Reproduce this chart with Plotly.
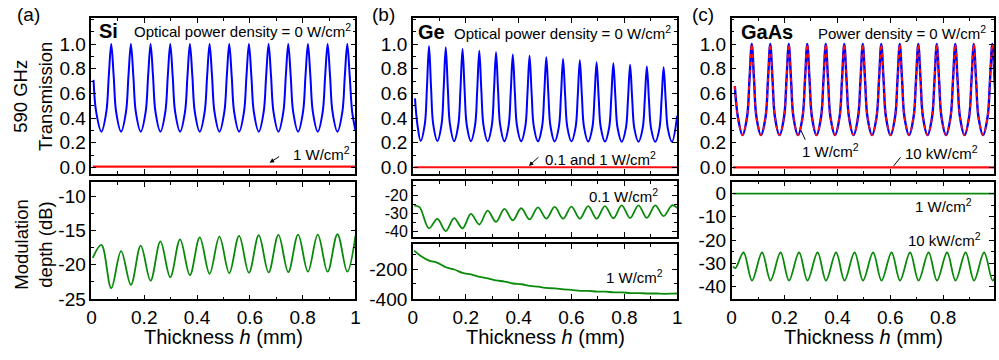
import plotly.graph_objects as go

# ---------------- thickness grids (mm) and curves ----------------
# (a) Si, 590 GHz transmission, dark
si_h = [0.008, 0.018, 0.0378,
        0.0564, 0.0657, 0.075, 0.0843, 0.0936, 0.1123,
        0.1309, 0.1402, 0.1495, 0.1588, 0.1681, 0.1868,
        0.2054, 0.2147, 0.224, 0.2333, 0.2426, 0.2613,
        0.2799, 0.2892, 0.2985, 0.3078, 0.3171, 0.3358,
        0.3544, 0.3637, 0.373, 0.3823, 0.3916, 0.4103,
        0.4289, 0.4382, 0.4475, 0.4568, 0.4661, 0.4848,
        0.5034, 0.5127, 0.522, 0.5313, 0.5406, 0.5593,
        0.5779, 0.5872, 0.5965, 0.6058, 0.6151, 0.6338,
        0.6524, 0.6617, 0.671, 0.6803, 0.6896, 0.7083,
        0.7269, 0.7362, 0.7455, 0.7548, 0.7641, 0.7828,
        0.8014, 0.8107, 0.82, 0.8293, 0.8386, 0.8573,
        0.8759, 0.8852, 0.8945, 0.9038, 0.9131, 0.9318,
        0.9504, 0.9597, 0.969, 0.9783, 0.9876, 1.0]
si_t_dark = [0.71, 0.45, 0.29,
             0.45, 0.74, 1.00, 0.74, 0.45, 0.29,
             0.45, 0.74, 1.00, 0.74, 0.45, 0.29,
             0.45, 0.74, 1.00, 0.74, 0.45, 0.29,
             0.45, 0.74, 1.00, 0.74, 0.45, 0.29,
             0.45, 0.74, 1.00, 0.74, 0.45, 0.29,
             0.45, 0.74, 1.00, 0.74, 0.45, 0.29,
             0.45, 0.74, 1.00, 0.74, 0.45, 0.29,
             0.45, 0.74, 1.00, 0.74, 0.45, 0.29,
             0.45, 0.74, 1.00, 0.74, 0.45, 0.29,
             0.45, 0.74, 1.00, 0.74, 0.45, 0.29,
             0.45, 0.74, 1.00, 0.74, 0.45, 0.29,
             0.45, 0.74, 1.00, 0.74, 0.45, 0.29,
             0.45, 0.74, 1.00, 0.74, 0.45, 0.30]
si_flat_h = [0.005, 1.0]
si_t_1w = [0.007, 0.007]

# (a) Si modulation depth (dB)
si_md_h = [0.005, 0.0378, 0.075, 0.1123, 0.1495, 0.1868, 0.224, 0.2613,
           0.2985, 0.3358, 0.373, 0.4103, 0.4475, 0.4848, 0.522, 0.5593,
           0.5965, 0.6338, 0.671, 0.7083, 0.7455, 0.7828, 0.82, 0.8573,
           0.8945, 0.9318, 0.969, 1.0]
si_md = [-19.0, -17.1, -23.4, -18.0, -22.9, -17.2, -22.3, -16.6,
         -21.8, -16.3, -21.5, -16.0, -21.3, -15.9, -21.2, -15.8,
         -21.15, -15.7, -21.1, -15.65, -21.05, -15.6, -21.0, -15.6,
         -21.0, -15.55, -21.0, -15.8]

# (b) Ge, 590 GHz transmission, dark
ge_h = [0.008, 0.017, 0.0293,
        0.0451, 0.0531, 0.061, 0.0689, 0.0769, 0.0927,
        0.1085, 0.1165, 0.1244, 0.1323, 0.1403, 0.1561,
        0.1719, 0.1799, 0.1878, 0.1957, 0.2037, 0.2195,
        0.2353, 0.2433, 0.2512, 0.2591, 0.2671, 0.2829,
        0.2987, 0.3067, 0.3146, 0.3225, 0.3305, 0.3463,
        0.3621, 0.3701, 0.378, 0.3859, 0.3939, 0.4097,
        0.4255, 0.4335, 0.4414, 0.4493, 0.4573, 0.4731,
        0.4889, 0.4969, 0.5048, 0.5127, 0.5207, 0.5365,
        0.5523, 0.5603, 0.5682, 0.5761, 0.5841, 0.5999,
        0.6157, 0.6237, 0.6316, 0.6395, 0.6475, 0.6633,
        0.6791, 0.6871, 0.695, 0.7029, 0.7109, 0.7267,
        0.7425, 0.7505, 0.7584, 0.7663, 0.7743, 0.7901,
        0.8059, 0.8139, 0.8218, 0.8297, 0.8377, 0.8535,
        0.8693, 0.8773, 0.8852, 0.8931, 0.9011, 0.9169,
        0.9327, 0.9407, 0.9486, 0.9565, 0.9645, 0.9803,
        1.0]
ge_t_dark = [0.56, 0.35, 0.215,
             0.351, 0.643, 0.984, 0.643, 0.351, 0.215,
             0.349, 0.638, 0.974, 0.638, 0.349, 0.214,
             0.346, 0.629, 0.960, 0.629, 0.346, 0.214,
             0.343, 0.621, 0.945, 0.621, 0.343, 0.213,
             0.341, 0.615, 0.934, 0.615, 0.341, 0.213,
             0.337, 0.605, 0.916, 0.605, 0.337, 0.212,
             0.335, 0.599, 0.906, 0.599, 0.335, 0.212,
             0.332, 0.591, 0.892, 0.591, 0.332, 0.211,
             0.329, 0.583, 0.879, 0.583, 0.329, 0.211,
             0.327, 0.577, 0.869, 0.577, 0.327, 0.210,
             0.324, 0.568, 0.853, 0.568, 0.324, 0.210,
             0.322, 0.564, 0.845, 0.564, 0.322, 0.209,
             0.319, 0.556, 0.832, 0.556, 0.319, 0.209,
             0.317, 0.549, 0.819, 0.549, 0.317, 0.208,
             0.315, 0.544, 0.811, 0.544, 0.315, 0.208,
             0.42]
ge_flat_h = [0.005, 1.0]
ge_t_lit = [0.002, 0.002]

# (b) Ge modulation depth (dB) at 0.1 W/cm2
ge_md01_h = [0.005, 0.025, 0.061, 0.0927, 0.1244, 0.1561, 0.1878, 0.2195,
             0.2512, 0.2829, 0.3146, 0.3463, 0.378, 0.4097, 0.4414, 0.4731,
             0.5048, 0.5365, 0.5682, 0.5999, 0.6316, 0.6633, 0.695, 0.7267,
             0.7584, 0.7901, 0.8218, 0.8535, 0.8852, 0.9169, 0.9486, 0.9803,
             1.0]
ge_md01 = [-25.8, -26.6, -38.2, -33.0, -39.7, -32.6, -38.2, -30.3,
           -36.1, -28.5, -34.7, -27.6, -33.8, -27.2, -33.3, -26.7,
           -32.9, -26.5, -32.9, -26.3, -32.9, -26.0, -32.9, -26.0,
           -32.7, -25.6, -32.6, -25.6, -32.5, -25.6, -31.5, -25.6,
           -27.0]

# (b) Ge modulation depth (dB) at 1 W/cm2
ge_md1_h = [0.005, 0.03, 0.061, 0.093, 0.125, 0.157, 0.188, 0.22,
            0.252, 0.284, 0.315, 0.347, 0.379, 0.411, 0.443, 0.474,
            0.506, 0.538, 0.57, 0.601, 0.633, 0.665, 0.697, 0.729,
            0.761, 0.792, 0.824, 0.856, 0.888, 0.92, 0.951, 0.983, 1.0]
ge_md1 = [-76, -112, -143, -158, -188, -203, -226, -236,
          -252, -262, -276, -284, -297, -302, -313, -318,
          -327, -330, -337, -340, -346, -347, -351, -352,
          -356, -357, -361, -361, -364, -364, -366, -365, -364]

# (c) GaAs, 590 GHz transmission (dark and 1 W/cm2 coincide)
gaas_h = [0.012, 0.0235, 0.041,
          0.0585, 0.0673, 0.076, 0.0848, 0.0935, 0.111,
          0.1285, 0.1373, 0.146, 0.1548, 0.1635, 0.181,
          0.1985, 0.2073, 0.216, 0.2248, 0.2335, 0.251,
          0.2685, 0.2773, 0.286, 0.2948, 0.3035, 0.321,
          0.3385, 0.3473, 0.356, 0.3648, 0.3735, 0.391,
          0.4085, 0.4173, 0.426, 0.4348, 0.4435, 0.461,
          0.4785, 0.4873, 0.496, 0.5048, 0.5135, 0.531,
          0.5485, 0.5573, 0.566, 0.5748, 0.5835, 0.601,
          0.6185, 0.6273, 0.636, 0.6448, 0.6535, 0.671,
          0.6885, 0.6973, 0.706, 0.7148, 0.7235, 0.741,
          0.7585, 0.7673, 0.776, 0.7848, 0.7935, 0.811,
          0.8285, 0.8373, 0.846, 0.8548, 0.8635, 0.881,
          0.8985, 0.9073, 0.916, 0.9248, 0.9335, 0.951,
          0.9685, 0.9773, 0.986, 0.9948, 1.0]
gaas_t_dark = [0.66, 0.41, 0.262,
               0.413, 0.706, 1.0, 0.706, 0.413, 0.262,
               0.413, 0.706, 1.0, 0.706, 0.413, 0.262,
               0.413, 0.706, 1.0, 0.706, 0.413, 0.262,
               0.413, 0.706, 1.0, 0.706, 0.413, 0.262,
               0.413, 0.706, 1.0, 0.706, 0.413, 0.262,
               0.413, 0.706, 1.0, 0.706, 0.413, 0.262,
               0.413, 0.706, 1.0, 0.706, 0.413, 0.262,
               0.413, 0.706, 1.0, 0.706, 0.413, 0.262,
               0.413, 0.706, 1.0, 0.706, 0.413, 0.262,
               0.413, 0.706, 1.0, 0.706, 0.413, 0.262,
               0.413, 0.706, 1.0, 0.706, 0.413, 0.262,
               0.413, 0.706, 1.0, 0.706, 0.413, 0.262,
               0.413, 0.706, 1.0, 0.706, 0.413, 0.262,
               0.413, 0.706, 1.0, 0.706, 0.52]
gaas_t_1w = gaas_t_dark
gaas_flat_h = [0.005, 1.0]
gaas_t_10kw = [0.001, 0.001]

# (c) GaAs modulation depth (dB)
gaas_md1_h = [0.005, 1.0]
gaas_md1 = [-0.1, -0.1]
gaas_md10k_h = [0.005, 0.014, 0.045, 0.077, 0.115, 0.147, 0.185, 0.217,
                0.255, 0.287, 0.325, 0.357, 0.395, 0.427, 0.465, 0.497,
                0.535, 0.567, 0.605, 0.637, 0.675, 0.707, 0.745, 0.777,
                0.815, 0.847, 0.885, 0.917, 0.955, 0.987, 1.0]
gaas_md10k = [-31.3, -32.0, -25.3, -37.3, -25.3, -37.3, -25.3, -37.3,
              -25.3, -37.3, -25.3, -37.3, -25.3, -37.3, -25.3, -37.3,
              -25.3, -37.3, -25.3, -37.3, -25.3, -37.3, -25.3, -37.3,
              -25.3, -37.3, -25.3, -37.3, -25.3, -37.3, -34.5]

# ---------------- tick labels ----------------
h_ticks = [0, 0.2, 0.4, 0.6, 0.8, 1]
h_ticktext = ["0", "0.2", "0.4", "0.6", "0.8", "1"]
t_ticks = [0, 0.2, 0.4, 0.6, 0.8, 1.0]
t_ticktext = ["0.0", "0.2", "0.4", "0.6", "0.8", "1.0"]
si_md_ticks = [-25, -20, -15, -10]
ge_md01_ticks = [-40, -30, -20]
ge_md1_ticks = [-400, -200]
gaas_md_ticks = [-40, -30, -20, -10, 0]

BLUE = "#0000ff"
RED = "#ff1010"
GREEN = "#0a8a0a"
FONT = "Liberation Sans, Arial, sans-serif"
W, H = 999, 360

fig = go.Figure()


def line(x, y, n, color, width=2.0, dash="solid", shape="spline"):
    ax = "" if n == 1 else str(n)
    fig.add_trace(go.Scatter(x=x, y=y, mode="lines", xaxis="x" + ax, yaxis="y" + ax,
                             line=dict(color=color, width=width, dash=dash, shape=shape),
                             showlegend=False, hoverinfo="skip"))


# subplot 1: Si transmission, 2: Si modulation
line(si_h, si_t_dark, 1, BLUE)
line(si_flat_h, si_t_1w, 1, RED, 2.2, shape="linear")
line(si_md_h, si_md, 2, GREEN, 1.8)
# subplot 3: Ge transmission, 4/5: Ge modulation
line(ge_h, ge_t_dark, 3, BLUE)
line(ge_flat_h, ge_t_lit, 3, RED, 2.2, shape="linear")
line(ge_md01_h, ge_md01, 4, GREEN, 1.8)
line(ge_md1_h, ge_md1, 5, GREEN, 1.8)
# subplot 6: GaAs transmission, 7: GaAs modulation
line(gaas_h, gaas_t_dark, 6, BLUE, 2.4)
line(gaas_h, gaas_t_1w, 6, RED, 1.8, dash="4px,4px")
line(gaas_flat_h, gaas_t_10kw, 6, RED, 2.2, shape="linear")
line(gaas_md1_h, gaas_md1, 7, GREEN, 1.8, shape="linear")
line(gaas_md10k_h, gaas_md10k, 7, GREEN, 1.8)


def xdom(p0, p1):
    return [p0 / W, min(p1 / W, 1.0)]


def ydom(top, bottom):
    return [1 - bottom / H, 1 - top / H]


def axis_style(fsize=19, **kw):
    base = dict(showline=True, linecolor="black", linewidth=1.6, mirror="ticks",
                ticks="inside", ticklen=5, tickwidth=1.3, tickcolor="black",
                showgrid=False, zeroline=False,
                tickfont=dict(family=FONT, size=fsize, color="black"))
    base.update(kw)
    return base


XA, XB, XC = xdom(87.3, 354), xdom(412, 679), xdom(734, 999)
YTOP = ydom(18.5, 179)
minor_h = dict(ticks="inside", ticklen=3, tickwidth=1.1, tickcolor="black", dtick=0.1)

xcfg = [
    (XA, [0, 1], False),     # 1
    (XA, [0, 1], True),      # 2
    (XB, [0, 1], False),     # 3
    (XB, [0, 1], False),     # 4
    (XB, [0, 1], True),      # 5
    (XC, [0, 0.9925], False),  # 6
    (XC, [0, 0.9925], True),   # 7
]
# domain, range, tick values, tick text, minor step, tick font size
ycfg = [
    (YTOP, [-0.053, 1.211], t_ticks, t_ticktext, 0.1, 19),
    (ydom(187, 308), [-25.04, -7.92], si_md_ticks, [str(v) for v in si_md_ticks], 2.5, 19),
    (YTOP, [-0.053, 1.211], t_ticks, t_ticktext, 0.1, 19),
    (ydom(186, 243.3), [-42.7, -12.2], ge_md01_ticks, [str(v) for v in ge_md01_ticks], 5, 16),
    (ydom(251, 307.7), [-402, -32], ge_md1_ticks, [str(v) for v in ge_md1_ticks], 100, 19),
    (YTOP, [-0.053, 1.211], t_ticks, t_ticktext, 0.1, 19),
    (ydom(186.7, 308), [-45.4, 5.1], gaas_md_ticks, [str(v) for v in gaas_md_ticks], 5, 19),
]

layout = dict(width=W, height=H, margin=dict(l=0, r=0, t=0, b=0),
              paper_bgcolor="white", plot_bgcolor="white",
              font=dict(family=FONT, color="black"))
for i in range(7):
    n = "" if i == 0 else str(i + 1)
    dom, rng, lab = xcfg[i]
    layout["xaxis" + n] = axis_style(domain=dom, range=rng, anchor="y" + n,
                                     tickvals=h_ticks, ticktext=h_ticktext,
                                     showticklabels=lab, minor=minor_h)
    ydm, yr, tv, tt, md, fs = ycfg[i]
    layout["yaxis" + n] = axis_style(fsize=fs, domain=ydm, range=yr, anchor="x" + n,
                                     tickvals=tv, ticktext=tt,
                                     minor=dict(ticks="inside", ticklen=3, tickwidth=1.1,
                                                tickcolor="black", dtick=md))
fig.update_layout(**layout)

ann = []


def text(x, y, s, xref, yref, size=15, xanchor="left", yanchor="middle", angle=0, bold=False):
    ann.append(dict(x=x, y=y, xref=xref, yref=yref, text=("<b>%s</b>" % s) if bold else s,
                    showarrow=False, xanchor=xanchor, yanchor=yanchor, textangle=angle,
                    font=dict(family=FONT, size=size, color="black")))


def pointer(x, y, ax, ay, xref, yref, head=2):
    ann.append(dict(x=x, y=y, xref=xref, yref=yref, text="", showarrow=True,
                    ax=ax, ay=ay, arrowhead=head, arrowsize=0.9, arrowwidth=1,
                    arrowcolor="black", standoff=0, startstandoff=0))


# panel letters
text(23.5 / W, 1 - 15 / H, "(a)", "paper", "paper", 19, "center")
text(382.5 / W, 1 - 15 / H, "(b)", "paper", "paper", 19, "center")
text(705 / W, 1 - 15 / H, "(c)", "paper", "paper", 19, "center")

# in-panel headers
text(0.02, 1.107, "Si", "x", "y", 20, bold=True)
text(0.153, 1.107, "Optical power density = 0 W/cm<sup>2</sup>", "x", "y", 15)
text(0.011, 1.097, "Ge", "x3", "y3", 20, bold=True)
text(0.149, 1.097, "Optical power density = 0 W/cm<sup>2</sup>", "x3", "y3", 15)
text(0.026, 1.097, "GaAs", "x6", "y6", 20, bold=True)
text(0.318, 1.097, "Power density = 0 W/cm<sup>2</sup>", "x6", "y6", 15)

# curve labels
text(0.755, 0.115, "1 W/cm<sup>2</sup>", "x", "y", 15)
pointer(0.675, 0.039, 11, -7, "x", "y")
text(0.491, 0.071, "0.1 and 1 W/cm<sup>2</sup>", "x3", "y3", 15)
pointer(0.439, 0.013, 11, -10, "x3", "y3")
text(0.258, 0.136, "1 W/cm<sup>2</sup>", "x6", "y6", 15)
pointer(0.262, 0.302, 5, 11, "x6", "y6", head=0)
text(0.647, 0.12, "10 kW/cm<sup>2</sup>", "x6", "y6", 15)
pointer(0.613, 0.013, 8, -10, "x6", "y6", head=0)

text(0.796, -20.5, "0.1 W/cm<sup>2</sup>", "x4", "y4", 15, "center")
text(0.839, -247.7, "1 W/cm<sup>2</sup>", "x5", "y5", 15, "center")
text(0.801, -5.0, "1 W/cm<sup>2</sup>", "x7", "y7", 15, "center")
text(0.805, -19.9, "10 kW/cm<sup>2</sup>", "x7", "y7", 15, "center")

# axis titles
text(28 / W, 1 - 99 / H, "590 GHz<br>Transmission", "paper", "paper", 18.5, "center", angle=-90)
text(28 / W, 1 - 251 / H, "Modulation<br>depth (dB)", "paper", "paper", 18.5, "center", angle=-90)
for cx in (220.7, 545.5, 867.5):
    text(cx / W, 1 - 346.5 / H, "Thickness <i>h</i> (mm)", "paper", "paper", 20, "center")

fig.update_layout(annotations=ann)
fig.write_html("out.html")
